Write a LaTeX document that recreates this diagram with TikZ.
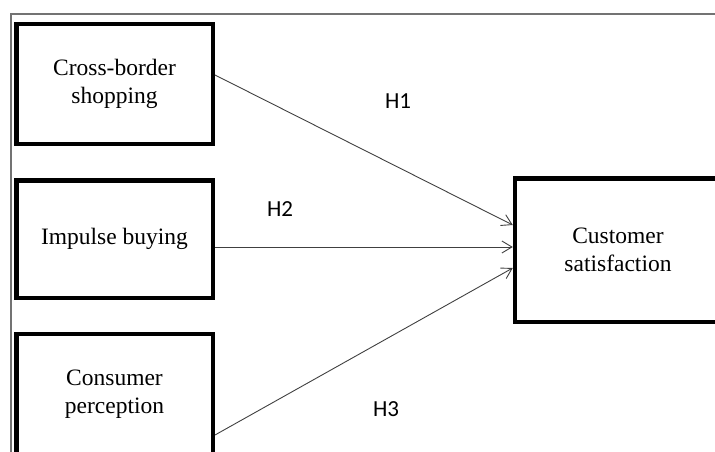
\documentclass[tikz,border=0pt]{standalone}
\usepackage{fontspec}
\setmainfont{Liberation Serif}
\newfontfamily\hfont{Carlito}
\usetikzlibrary{arrows.meta}

\begin{document}
\begin{tikzpicture}[x=1pt, y=-1pt]
\tikzset{boite/.style={draw, line width=4.5pt, inner sep=0pt, align=center, minimum width=196.5pt, font=\fontsize{23.5}{28}\selectfont},
  lien/.style={draw=black!75, line width=0.9pt, -{Straight Barb[length=10pt,width=12pt]}},
  hyp/.style={font=\hfont\fontsize{23}{26}\selectfont}}
\useasboundingbox (0,0) rectangle (715,452);
\clip (0,0) rectangle (715,452);
\draw[black!55, line width=1.3pt] (11,470) -- (11,14) -- (730,14);
\node[boite, minimum height=119.5pt] (CB) at (114.5,84) {Cross-border\\shopping};
\node[boite, minimum height=117.5pt] (IB) at (114.5,239) {Impulse buying};
\node[boite, minimum height=120pt] (CP) at (114.5,394) {Consumer\\perception};
\node[boite, minimum width=206pt, minimum height=143.5pt] (CS) at (618,250) {Customer\\satisfaction};
\node[hyp] (H1) at (398,101) {H1};
\node[hyp] (H2) at (280,209) {H2};
\node[hyp] (H3) at (386,409) {H3};
\draw[lien] ([yshift=9pt]CB.east) -- ([yshift=25pt]CS.west);
\draw[lien] ([yshift=-8pt]IB.east) -- ([yshift=3pt]CS.west);
\draw[lien] ([yshift=-41pt]CP.east) -- ([yshift=-18pt]CS.west);
\end{tikzpicture}
\end{document}
